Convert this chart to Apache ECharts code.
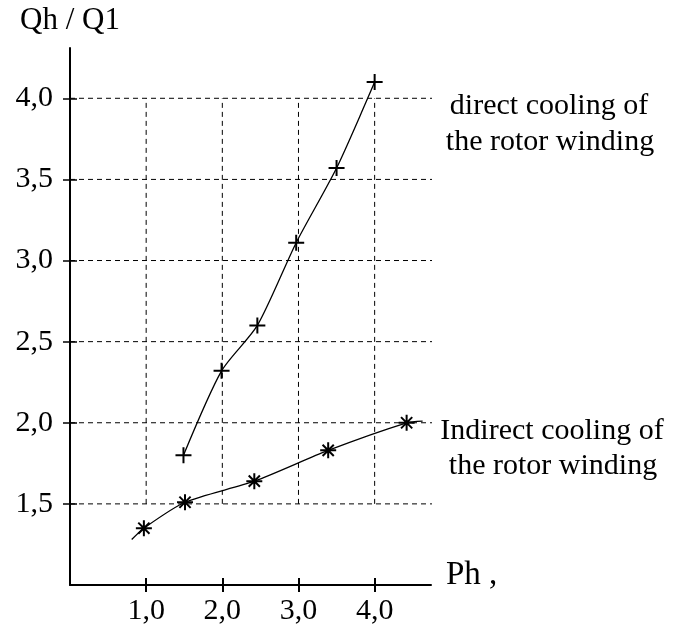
<!DOCTYPE html>
<html>
<head>
<meta charset="utf-8">
<script src="https://cdn.jsdelivr.net/npm/echarts@6/dist/echarts.min.js"></script>
<style>
    html, body { margin: 0; background: #fff; }
    #chart { width: 676px; height: 630px; }
</style>
</head>
<body>
<div id="chart"></div>
<script>
// tick positions and labels
var xTicks = [1, 2, 3, 4];
var xTickLabels = ['1,0', '2,0', '3,0', '4,0'];
var yTicks = [1.5, 2, 2.5, 3, 3.5, 4];
var yTickLabels = ['1,5', '2,0', '2,5', '3,0', '3,5', '4,0'];

// direct cooling of the rotor winding (+)
var directX = [1.49, 1.99, 2.46, 2.97, 3.50, 4.00];
var directY = [1.80, 2.32, 2.60, 3.11, 3.57, 4.10];

// indirect cooling (*), first and last points are only the ends of the curve
var indirectX = [0.81, 0.97, 1.51, 2.42, 3.39, 4.42, 4.63];
var indirectY = [1.28, 1.35, 1.51, 1.64, 1.83, 2.00, 2.01];

var FONT = 'Liberation Serif';
var myChart = echarts.init(document.getElementById('chart'));

function tickLabel(ticks, labels) {
    return function (v) {
        var i = ticks.indexOf(v);
        return i < 0 ? '' : labels[i];
    };
}

// dashed grid: vertical lines only between 1.5 and 4.0, horizontal across the plot
var gridSeries = [];
xTicks.forEach(function (x) {
    gridSeries.push({
        type: 'line', data: [[x, yTicks[0]], [x, yTicks[yTicks.length - 1]]],
        symbol: 'none', silent: true, z: 1, clip: false,
        lineStyle: { color: '#000', width: 1, type: [5, 4] }
    });
});
yTicks.forEach(function (y) {
    gridSeries.push({
        type: 'line', data: [[0, y], [4.78, y]],
        symbol: 'none', silent: true, z: 1, clip: false,
        lineStyle: { color: '#000', width: 1, type: [5, 4] }
    });
});

var directData = directX.map(function (x, i) { return [x, directY[i]]; });
var indirectData = indirectX.map(function (x, i) {
    var item = { value: [x, indirectY[i]] };
    if (i === 0 || i === indirectX.length - 1) item.symbol = 'none';
    return item;
});

function note(text, x, y, size, align) {
    return {
        type: 'text', x: x, y: y,
        style: { text: text, fontFamily: FONT, fontSize: size || 30, fill: '#000',
            textAlign: align || 'center', textVerticalAlign: 'middle' }
    };
}

var option = {
    animation: false,
    backgroundColor: '#fff',
    grid: { left: 70, right: 245, top: 48, bottom: 45 },
    xAxis: [{
        type: 'value', min: 0, max: 4.74,
        axisLine: { show: true, lineStyle: { color: '#000', width: 2 } },
        axisTick: { show: true, length: 7, customValues: xTicks, lineStyle: { color: '#000', width: 2 } },
        axisLabel: { customValues: xTicks, formatter: tickLabel(xTicks, xTickLabels), margin: 11,
            fontFamily: FONT, fontSize: 30, color: '#000' },
        splitLine: { show: false }
    }, {
        type: 'value', min: 0, max: 4.74, position: 'bottom',
        axisLine: { show: false },
        axisTick: { show: true, inside: true, length: 7, customValues: xTicks, lineStyle: { color: '#000', width: 2 } },
        axisLabel: { show: false },
        splitLine: { show: false }
    }],
    yAxis: [{
        type: 'value', min: 1.0, max: 4.31,
        name: 'Qh / Q1', nameLocation: 'end', nameGap: 12,
        nameTextStyle: { fontFamily: FONT, fontSize: 31, color: '#000', align: 'center' },
        axisLine: { show: true, lineStyle: { color: '#000', width: 2 } },
        axisTick: { show: true, length: 7, customValues: yTicks, lineStyle: { color: '#000', width: 1.5 } },
        axisLabel: { customValues: yTicks, formatter: tickLabel(yTicks, yTickLabels), margin: 17,
            fontFamily: FONT, fontSize: 30, color: '#000', padding: [0, 0, 10, 0] },
        splitLine: { show: false }
    }, {
        type: 'value', min: 1.0, max: 4.31, position: 'left',
        axisLine: { show: false },
        axisTick: { show: true, inside: true, length: 7, customValues: yTicks, lineStyle: { color: '#000', width: 1.5 } },
        axisLabel: { show: false },
        splitLine: { show: false }
    }],
    graphic: [
        note('direct cooling of', 549, 106),
        note('the rotor winding', 550, 142),
        note('Indirect cooling of', 552, 431),
        note('the rotor winding', 553, 466),
        note('Ph ,', 446, 575, 33, 'left')
    ],
    series: gridSeries.concat([{
        name: 'direct', type: 'line', data: directData, smooth: 0.25, z: 3,
        symbol: 'path://M0,-10L0,10M-10,0L10,0', symbolSize: 16, symbolKeepAspect: true,
        itemStyle: { color: '#000', borderColor: '#000', borderWidth: 2 },
        lineStyle: { color: '#000', width: 1.3 }
    }, {
        name: 'indirect', type: 'line', data: indirectData, smooth: 0.25, z: 3,
        symbol: 'path://M0,-10L0,10M-10,0L10,0M-7,-7L7,7M-7,7L7,-7', symbolSize: 16, symbolKeepAspect: true,
        itemStyle: { color: '#000', borderColor: '#000', borderWidth: 2 },
        lineStyle: { color: '#000', width: 1.3 }
    }])
};

myChart.setOption(option);
</script>
</body>
</html>
